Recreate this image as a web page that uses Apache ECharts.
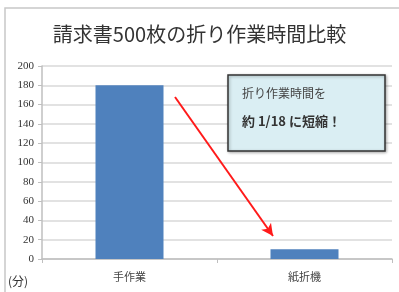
<!DOCTYPE html>
<html lang="ja">
<head>
<meta charset="UTF-8">
<title>折り作業時間比較</title>
<style>
  html, body { margin: 0; padding: 0; background: #fff; }
  #main { width: 399px; height: 292px; }
</style>
</head>
<body>
<div id="main"></div>
<script src="https://cdn.jsdelivr.net/npm/echarts@6/dist/echarts.min.js"></script>
<script>
var categories = ['手作業', '紙折機'];
var minutes = [180, 10];
var yTicks = [0, 20, 40, 60, 80, 100, 120, 140, 160, 180, 200];

var chart = echarts.init(document.getElementById('main'));
var jp = '"Noto Sans CJK JP", sans-serif';

var option = {
  animation: false,
  title: {
    text: '請求書500枚の折り作業時間比較',
    left: 'center',
    top: 19,
    textStyle: { fontFamily: jp, fontSize: 20, fontWeight: 'normal', color: '#333' }
  },
  grid: { left: 42, right: 7, top: 66, bottom: 33 },
  xAxis: {
    type: 'category',
    data: categories,
    axisLine: { lineStyle: { color: '#bfbfbf', width: 1.5 } },
    axisTick: { show: true, length: 4, lineStyle: { color: '#bfbfbf' } },
    axisLabel: { fontFamily: jp, fontSize: 11, color: '#444', margin: 12 }
  },
  yAxis: {
    type: 'value',
    min: yTicks[0],
    max: yTicks[yTicks.length - 1],
    interval: 20,
    axisLine: { show: true, lineStyle: { color: '#bfbfbf', width: 1.5 } },
    axisTick: { show: true, length: 4, lineStyle: { color: '#bfbfbf' } },
    splitLine: { lineStyle: { color: '#d9d9d9', width: 1.5 } },
    axisLabel: { fontFamily: '"Liberation Serif", serif', fontSize: 11, color: '#333', margin: 8 }
  },
  series: [{
    type: 'bar',
    data: minutes,
    barWidth: 68,
    itemStyle: { color: '#4f81bd' },
    markLine: {
      silent: true,
      symbol: ['none', 'arrow'],
      symbolSize: [9, 12],
      label: { show: false },
      lineStyle: { color: '#ff1a1a', width: 2, type: 'solid' },
      data: [[{ x: 175, y: 97 }, { x: 273, y: 236 }]]
    }
  }],
  graphic: [
    {
      type: 'rect',
      shape: { x: 5, y: 8, width: 420, height: 300 },
      style: { fill: 'none', stroke: '#c8c8c8', lineWidth: 1.5 },
      z: -1
    },
    {
      type: 'rect',
      shape: { x: 228, y: 75, width: 157, height: 76 },
      style: {
        fill: '#daeef3', stroke: '#333', lineWidth: 1.5,
        shadowBlur: 3, shadowOffsetX: 1, shadowOffsetY: 1, shadowColor: 'rgba(0,0,0,0.3)'
      },
      z: 10
    },
    {
      type: 'text',
      x: 242, y: 93,
      style: { text: '折り作業時間を', font: '12px "Noto Sans CJK JP"', fill: '#444', verticalAlign: 'middle' },
      z: 11
    },
    {
      type: 'text',
      x: 242, y: 121,
      style: { text: '約 1/18 に短縮！', font: 'bold 13px "Noto Sans CJK JP"', fill: '#333', verticalAlign: 'middle' },
      z: 11
    },
    {
      type: 'text',
      x: 8, y: 281,
      style: { text: '(分)', font: '12px "Noto Sans CJK JP"', fill: '#333', verticalAlign: 'middle' }
    }
  ]
};
chart.setOption(option);
</script>
</body>
</html>
